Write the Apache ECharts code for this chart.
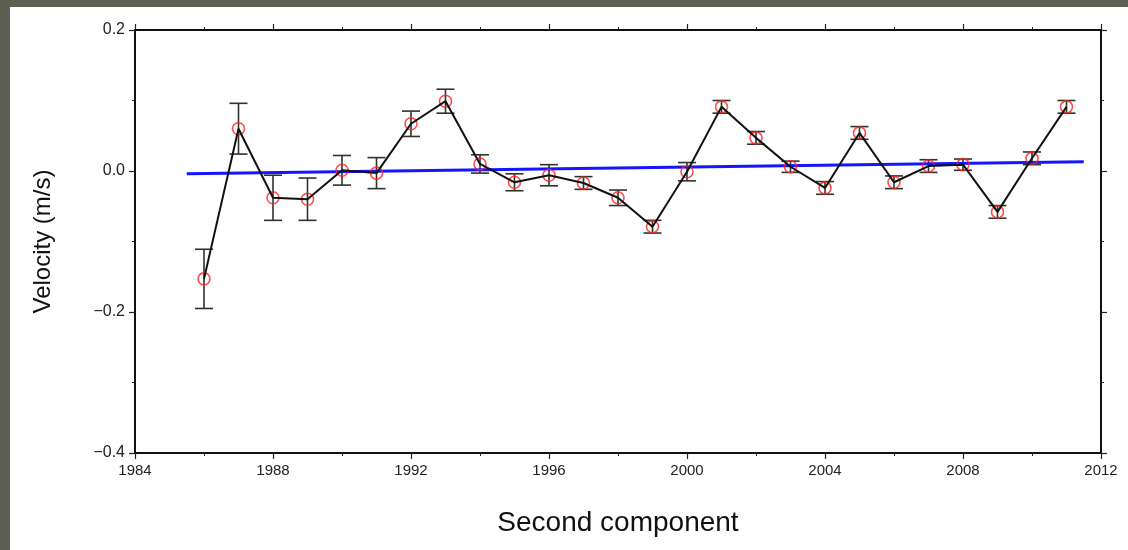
<!DOCTYPE html>
<html>
<head>
<meta charset="utf-8">
<script src="https://cdn.jsdelivr.net/npm/echarts@6/dist/echarts.min.js"></script>
<style>
  body { margin: 0; }
  #main { width: 1128px; height: 550px; }
</style>
</head>
<body>
<div id="main"></div>
<script>
// 年份
var years = [1986, 1987, 1988, 1989, 1990, 1991, 1992, 1993, 1994, 1995, 1996, 1997, 1998,
    1999, 2000, 2001, 2002, 2003, 2004, 2005, 2006, 2007, 2008, 2009, 2010, 2011];
// 速度 (m/s)
var velocity = [-0.153, 0.060, -0.038, -0.040, 0.001, -0.003, 0.067, 0.099, 0.010, -0.016, -0.006, -0.017, -0.038,
    -0.079, -0.001, 0.091, 0.047, 0.006, -0.024, 0.054, -0.016, 0.007, 0.009, -0.058, 0.018, 0.091];
// 误差
var errors = [0.042, 0.036, 0.032, 0.030, 0.021, 0.022, 0.018, 0.017, 0.013, 0.012, 0.015, 0.009, 0.011,
    0.009, 0.013, 0.009, 0.009, 0.008, 0.009, 0.009, 0.009, 0.009, 0.008, 0.009, 0.009, 0.009];
// 趋势线的两个端点
var trendX = [1985.5, 2011.5];
var trendY = [-0.004, 0.013];
var xTicks = [1984, 1988, 1992, 1996, 2000, 2004, 2008, 2012];
var yTicks = [-0.4, -0.2, 0.0, 0.2];

var font = '"Liberation Sans", Arial, sans-serif';

var points = years.map(function (y, i) { return [y, velocity[i]]; });
var bars = years.map(function (y, i) { return [y, velocity[i] - errors[i], velocity[i] + errors[i]]; });
var trend = trendX.map(function (x, i) { return [x, trendY[i]]; });

function axisCommon(pos, showLabel) {
    var isX = pos === 'bottom' || pos === 'top';
    return {
        type: 'value',
        position: pos,
        min: isX ? xTicks[0] : yTicks[0],
        max: isX ? xTicks[xTicks.length - 1] : yTicks[yTicks.length - 1],
        interval: isX ? 4 : 0.2,
        splitLine: { show: false },
        axisLine: { show: true, onZero: false, lineStyle: { color: '#111', width: 2 } },
        axisTick: { show: true, inside: false, length: 6, lineStyle: { color: '#222', width: 1.2 } },
        minorTick: { show: true, splitNumber: 2, length: 3, lineStyle: { color: '#222', width: 1 } },
        axisLabel: { show: showLabel }
    };
}

var xBottom = axisCommon('bottom', true);
xBottom.axisLabel = {
    show: true, margin: 10, color: '#222', fontSize: 15, fontFamily: font,
    formatter: function (v) { return String(v); }
};
xBottom.name = 'Second component';
xBottom.nameLocation = 'middle';
xBottom.nameGap = 56;
xBottom.nameTextStyle = { fontSize: 28, color: '#111', fontFamily: font };

var yLeft = axisCommon('left', true);
yLeft.axisLabel = {
    show: true, margin: 10, color: '#222', fontSize: 16, fontFamily: font,
    formatter: function (v) { return v.toFixed(1).replace('-', '\u2212'); }
};
yLeft.name = 'Velocity (m/s)';
yLeft.nameLocation = 'middle';
yLeft.nameGap = 80;
yLeft.nameTextStyle = { fontSize: 24, color: '#111', fontFamily: font };

var myChart = echarts.init(document.getElementById('main'));
myChart.setOption({
    backgroundColor: '#5e5e53',
    animation: false,
    graphic: [{
        type: 'rect', z: -10, silent: true,
        shape: { x: 10, y: 7, width: 1118, height: 543 },
        style: { fill: '#ffffff' }
    }],
    grid: { left: 135, right: 27, top: 30, bottom: 97 },
    xAxis: [xBottom, axisCommon('top', false)],
    yAxis: [yLeft, axisCommon('right', false)],
    series: [
        {
            // 误差棒
            type: 'custom',
            data: bars,
            z: 3,
            renderItem: function (params, api) {
                var x = api.value(0);
                var lo = api.coord([x, api.value(1)]);
                var hi = api.coord([x, api.value(2)]);
                var half = 9;
                var style = { stroke: '#2f332c', lineWidth: 1.6 };
                return {
                    type: 'group',
                    children: [
                        { type: 'line', shape: { x1: lo[0], y1: lo[1], x2: hi[0], y2: hi[1] }, style: style },
                        { type: 'line', shape: { x1: lo[0] - half, y1: lo[1], x2: lo[0] + half, y2: lo[1] }, style: style },
                        { type: 'line', shape: { x1: hi[0] - half, y1: hi[1], x2: hi[0] + half, y2: hi[1] }, style: style }
                    ]
                };
            }
        },
        {
            // 趋势线
            type: 'line',
            data: trend,
            showSymbol: false,
            z: 4,
            lineStyle: { color: '#1515ff', width: 3 }
        },
        {
            // 红色圆圈
            type: 'scatter',
            data: points,
            symbol: 'circle',
            symbolSize: 12,
            z: 5,
            itemStyle: { color: 'rgba(0,0,0,0)', borderColor: '#ff2020', borderWidth: 1.6 }
        },
        {
            // 折线
            type: 'line',
            data: points,
            showSymbol: false,
            z: 6,
            lineStyle: { color: '#111', width: 2 }
        }
    ]
});
</script>
</body>
</html>
